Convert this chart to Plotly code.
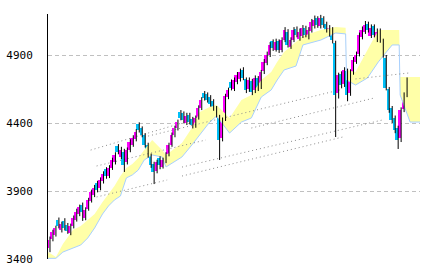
import plotly.graph_objects as go

# ---- candle data (index positions 0..120) ----
opens = [3480,3545,3580,3690,3610,3680,3650,3590,3640,3690,3730,3800,3700,3770,3830,3870,3960,3920,3970,4060,
         4010,4070,4110,4230,4150,4190,4110,4200,4240,4280,4390,4360,4310,4240,4160,4100,4050,4140,4080,4120,
         4170,4240,4310,4360,4480,4470,4400,4460,4430,4380,4440,4510,4620,4610,4590,4560,4510,4440,4290,4430,
         4590,4700,4650,4700,4720,4790,4720,4650,4710,4640,4730,4670,4780,4840,4900,5000,4940,5000,4940,5010,
         5070,4960,5010,5090,5020,5040,5100,5030,5080,5110,5170,5110,5170,5130,5050,5090,4990,4620,4760,4690,
         4780,4620,4770,4850,4910,5030,5070,5130,5040,5110,5010,5080,5000,4880,4650,4510,4440,4360,4290,4500,
         4610]
closes = [3540,3598,3628,3643,3657,3628,3606,3643,3701,3746,3782,3746,3760,3834,3893,3922,3907,3981,4025,4010,
          4069,4128,4165,4187,4201,4091,4201,4260,4290,4334,4349,4312,4238,4165,4091,4040,4113,4091,4128,4165,
          4238,4312,4363,4407,4437,4422,4451,4407,4385,4437,4510,4569,4583,4569,4540,4510,4459,4275,4422,4598,
          4643,4657,4716,4753,4775,4731,4643,4716,4628,4731,4657,4775,4849,4900,4974,4951,4996,4937,5010,5084,
          4974,5010,5084,5047,5069,5098,5047,5084,5143,5157,5121,5172,5121,5084,5098,5010,4606,4753,4679,4790,
          4606,4775,4863,4900,5047,5084,5121,5084,5098,5047,5069,5010,4900,4657,4496,4422,4349,4275,4496,4606,
          4716]
highs = [3565,3615,3645,3705,3675,3700,3665,3660,3720,3770,3800,3815,3780,3850,3910,3945,3975,4000,4045,4075,
         4090,4145,4185,4245,4225,4210,4220,4280,4310,4355,4405,4375,4325,4255,4175,4115,4130,4155,4145,4185,
         4255,4330,4380,4425,4495,4485,4475,4475,4445,4455,4530,4590,4635,4625,4605,4575,4525,4460,4440,4615,
         4660,4720,4735,4775,4800,4810,4735,4735,4725,4750,4745,4790,4870,4925,4995,5015,5020,5015,5030,5105,
         5090,5030,5105,5110,5095,5120,5115,5105,5165,5190,5185,5195,5185,5145,5120,5105,5005,4770,4780,4810,
         4800,4795,4885,4925,5065,5110,5150,5145,5125,5125,5095,5095,5020,4900,4665,4525,4455,4380,4515,4625,
         4735]
lows = [3450,3530,3565,3625,3595,3610,3585,3575,3625,3675,3715,3680,3685,3755,3815,3855,3890,3905,3955,3990,
        3995,4055,4095,4170,4135,4040,4095,4185,4225,4265,4330,4295,4220,4145,4070,3951,4030,4060,4065,4105,
        4155,4225,4295,4345,4420,4400,4385,4390,4360,4365,4425,4495,4565,4550,4520,4490,4440,4128,4265,4415,
        4575,4640,4635,4685,4705,4715,4620,4630,4605,4620,4635,4650,4760,4825,4885,4930,4925,4915,4920,4995,
        4955,4945,4995,5030,5005,5025,5030,5015,5065,5095,5100,5095,5100,5065,5035,4985,4297,4580,4655,4665,
        4560,4600,4755,4835,4890,5015,5055,5065,5025,5030,4995,4990,4880,4640,4475,4400,4325,4209,4260,4480,
        4590]
assert len(opens) == len(closes) == len(highs) == len(lows) == 121

# ---- cloud data ----
cloud_x = [-0.33,2.33,4.67,8,10.67,13,15.33,18,20,22,24,26,28,30,32,34.67,38,39.33,44.67,48,
           50.67,54,56.33,60.67,64.67,68,71.33,74.67,76.67,79,83,85.33,91.33,96.33,99.67,100,103,107,110.67,115.33,
           117.67,118,121.33,124.67]
cloud_top = [3451,3415,3510,3613,3643,3687,3731,3819,3878,3937,4010,4069,4099,4143,4201,4275,4201,4165,4253,4363,
             4481,4518,4532,4437,4569,4606,4716,4775,4849,4922,4996,5040,5084,5106,5100,4790,4775,4937,5084,5084,
             5084,4738,4738,4738]
cloud_bottom = [3405,3405,3451,3481,3503,3554,3628,3731,3790,3834,3863,3996,4018,4054,4128,4165,4150,4077,4150,4238,
                4312,4407,4451,4326,4407,4437,4591,4643,4716,4790,4819,4974,5010,5062,5055,4716,4679,4731,4849,4974,
                4974,4606,4407,4407]
assert len(cloud_x) == len(cloud_top) == len(cloud_bottom)

# ---- trend lines (index, price) ----
trend_lines = [
    ((14, 4201), (44.7, 4400)),
    ((16, 3856), (39.7, 3981)),
    ((16, 4084), (52.7, 4275)),
    ((32, 4297), (97.7, 4643)),
    ((44.7, 4076), (112, 4422)),
    ((44.7, 4010), (98.7, 4297)),
    ((68, 4363), (109.3, 4584)),
    ((103, 4724), (121, 4768)),
]

y_ticks = [3400, 3900, 4400, 4900]

UP = "#FF00FF"
DOWN = "#00C0F8"

fig = go.Figure()

# cloud
fig.add_trace(go.Scatter(x=cloud_x, y=cloud_bottom, mode="lines",
                         line=dict(color="#FFFFA8", width=0), hoverinfo="skip", showlegend=False))
fig.add_trace(go.Scatter(x=cloud_x, y=cloud_top, mode="lines", fill="tonexty",
                         fillcolor="#FFFFA8", line=dict(color="#FFFFA8", width=0),
                         hoverinfo="skip", showlegend=False))
fig.add_trace(go.Scatter(x=cloud_x, y=cloud_bottom, mode="lines",
                         line=dict(color="#A8D0FF", width=1), hoverinfo="skip", showlegend=False))

# trend lines
tx, ty = [], []
for (a, b) in trend_lines:
    tx += [a[0], b[0], None]
    ty += [a[1], b[1], None]
fig.add_trace(go.Scatter(x=tx, y=ty, mode="lines",
                         line=dict(color="#8C8C8C", width=1, dash="1px,3px"),
                         hoverinfo="skip", showlegend=False))

# candle bodies
idx = list(range(len(closes)))
body_x = [i - 0.17 for i in idx]
base = [min(o, c) for o, c in zip(opens, closes)]
height = [max(abs(c - o), 4) for o, c in zip(opens, closes)]
colors = [UP if c >= o else DOWN for o, c in zip(opens, closes)]
fig.add_trace(go.Bar(x=body_x, y=height, base=base, width=0.67,
                     marker=dict(color=colors, line=dict(width=0)),
                     hoverinfo="skip", showlegend=False))

# wicks
wx, wy = [], []
for i, (h, l) in enumerate(zip(highs, lows)):
    wx += [i + 0.33, i + 0.33, None]
    wy += [l, h, None]
fig.add_trace(go.Scatter(x=wx, y=wy, mode="lines", line=dict(color="black", width=1),
                         hoverinfo="skip", showlegend=False))

fig.update_layout(
    width=426, height=273,
    margin=dict(l=45, r=6, t=14, b=14),
    paper_bgcolor="white", plot_bgcolor="white",
    showlegend=False, bargap=0,
    font=dict(family="DejaVu Sans Mono", size=11, color="black"),
    xaxis=dict(range=[-0.333, 124.667], visible=False, showgrid=False, zeroline=False),
    yaxis=dict(range=[3400, 5201.5], tickvals=y_ticks, ticktext=[str(v) for v in y_ticks],
               showgrid=True, gridcolor="#C0C0C0", griddash="4px,3px", gridwidth=1,
               showline=True, linecolor="black", linewidth=1, zeroline=False,
               ticks="", ticklabelstandoff=12, fixedrange=True),
)

fig.write_html("out.html")
